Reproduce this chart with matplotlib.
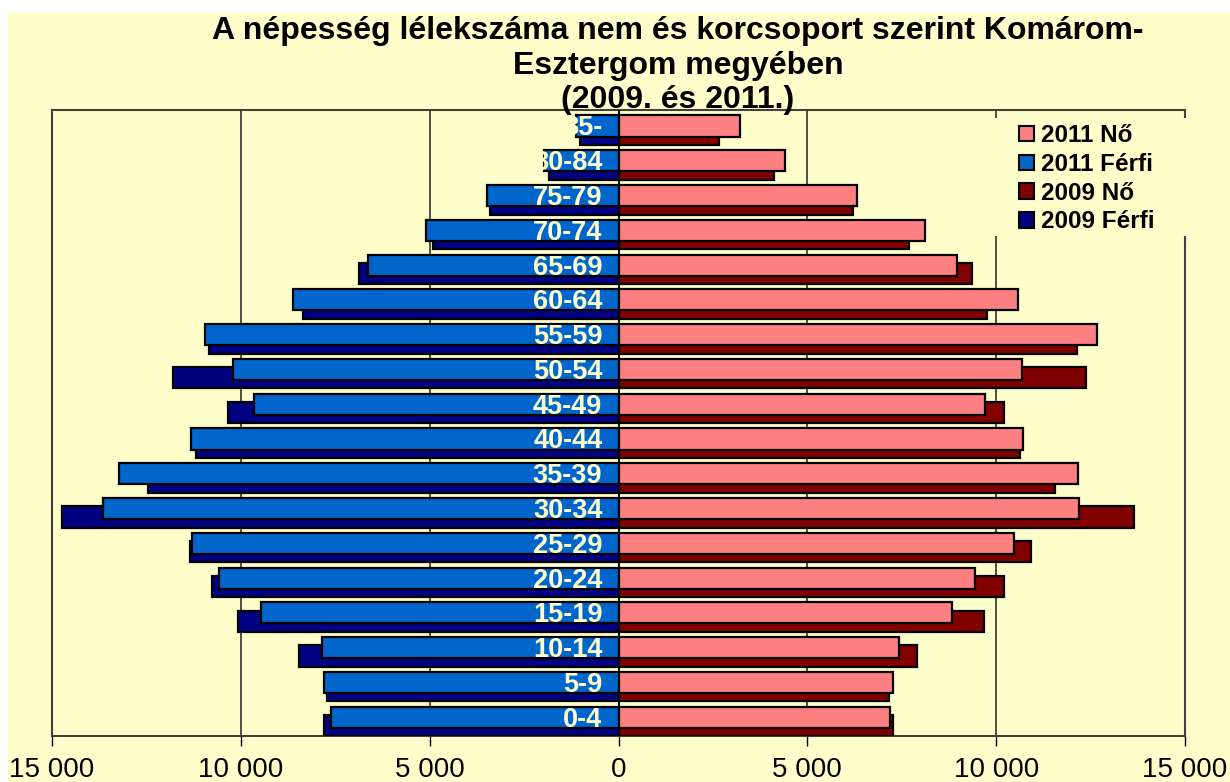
import numpy as np
import matplotlib.pyplot as plt
from matplotlib.patches import Patch, Rectangle

# age groups, bottom to top
age_groups = ["0-4", "5-9", "10-14", "15-19", "20-24", "25-29", "30-34", "35-39",
              "40-44", "45-49", "50-54", "55-59", "60-64", "65-69", "70-74",
              "75-79", "80-84", "85-"]

# values (persons)
ferfi_2011 = [7600, 7800, 7860, 9460, 10565, 11280, 13640, 13230, 11330,
              9660, 10210, 10960, 8620, 6640, 5090, 3485, 1960, 1120]
ferfi_2009 = [7785, 7730, 8460, 10085, 10765, 11340, 14745, 12460, 11200,
              10345, 11800, 10840, 8360, 6860, 4900, 3415, 1845, 1010]
no_2011 = [7200, 7265, 7440, 8835, 9450, 10460, 12185, 12160, 10705,
           9715, 10690, 12665, 10575, 8965, 8120, 6320, 4420, 3204]
no_2009 = [7280, 7175, 7900, 9690, 10200, 10910, 13660, 11560, 10635,
           10195, 12385, 12135, 9750, 9355, 7690, 6220, 4130, 2655]

xticks = [-15000, -10000, -5000, 0, 5000, 10000, 15000]
xtick_labels = ["15 000", "10 000", "5 000", "0", "5 000", "10 000", "15 000"]

BG = "#FFFFCC"
C_NO11 = "#FF8080"
C_FE11 = "#0066CC"
C_NO09 = "#800000"
C_FE09 = "#000080"

plt.rcParams['font.family'] = ['Liberation Sans', 'DejaVu Sans']

fig = plt.figure(figsize=(12.3, 7.82), dpi=100)
fig.patch.set_facecolor("white")
# yellow chart area (thin white strip on top and left in the original)
bg_rect = Rectangle((8 / 1230, 0), 1 - 8 / 1230, 1 - 12 / 782,
                    transform=fig.transFigure, facecolor=BG,
                    edgecolor="none", zorder=-10)
fig.patches.append(bg_rect)

ax = fig.add_axes([52 / 1230, 46 / 782, (1185 - 52) / 1230, (736 - 110) / 782])
ax.set_facecolor(BG)

y = np.arange(len(age_groups))
h = 0.61

# 2009 behind, 2011 in front
ax.barh(y - 0.2, -np.array(ferfi_2009), height=h, color=C_FE09,
        edgecolor="black", linewidth=1.6, zorder=3)
ax.barh(y - 0.2, no_2009, height=h, color=C_NO09,
        edgecolor="black", linewidth=1.6, zorder=3)
ax.barh(y + 0.04, -np.array(ferfi_2011), height=h, color=C_FE11,
        edgecolor="black", linewidth=1.6, zorder=4)
ax.barh(y + 0.04, no_2011, height=h, color=C_NO11,
        edgecolor="black", linewidth=1.6, zorder=4)

# age labels over the bars, same colour as background
for i, lab in enumerate(age_groups):
    ax.text(-430, i - 0.03, lab, ha="right", va="center", fontsize=19.5,
            fontweight="bold", color=BG, zorder=6)

ax.axvline(0, color="black", linewidth=1.2, zorder=5)

ax.set_xlim(-15000, 15000)
ax.set_ylim(-0.5, len(age_groups) - 0.5)
ax.set_xticks(xticks)
ax.set_xticklabels(xtick_labels, fontsize=20)
ax.set_yticks([])
ax.tick_params(axis="x", direction="out", length=7, width=1, pad=8, colors="black")
ax.xaxis.grid(True, color="#202020", linewidth=1.1, zorder=1)
ax.set_axisbelow(True)
for s in ax.spines.values():
    s.set_color("#404040")
    s.set_linewidth(1.5)

# legend background box hides the grid line and the right border behind it
ax.add_patch(Rectangle((990 / 1230, 1 - 236 / 782), 200 / 1230, 118 / 782,
                       transform=fig.transFigure, facecolor=BG, edgecolor="none",
                       clip_on=False, zorder=8))

handles = [Patch(facecolor=C_NO11, edgecolor="black", linewidth=1.5),
           Patch(facecolor=C_FE11, edgecolor="black", linewidth=1.5),
           Patch(facecolor=C_NO09, edgecolor="black", linewidth=1.5),
           Patch(facecolor=C_FE09, edgecolor="black", linewidth=1.5)]
labels = ["2011 Nő", "2011 Férfi", "2009 Nő", "2009 Férfi"]
leg = ax.legend(handles, labels, loc="upper left",
                bbox_to_anchor=(1019 / 1230, 1 - 124 / 782),
                bbox_transform=fig.transFigure, borderaxespad=0,
                prop={"weight": "bold", "size": 17.5}, handlelength=0.6,
                handleheight=0.6, handletextpad=0.3, labelspacing=0.24,
                borderpad=0.0, frameon=False)
leg.set_zorder(10)

fig.text(678 / 1230, 1 - 16 / 782,
         "A népesség lélekszáma nem és korcsoport szerint Komárom-\n"
         "Esztergom megyében\n(2009. és 2011.)",
         ha="center", va="top", fontsize=23, fontweight="bold",
         linespacing=1.2, zorder=12)

fig.savefig("out.png", dpi=100, facecolor=fig.get_facecolor())
